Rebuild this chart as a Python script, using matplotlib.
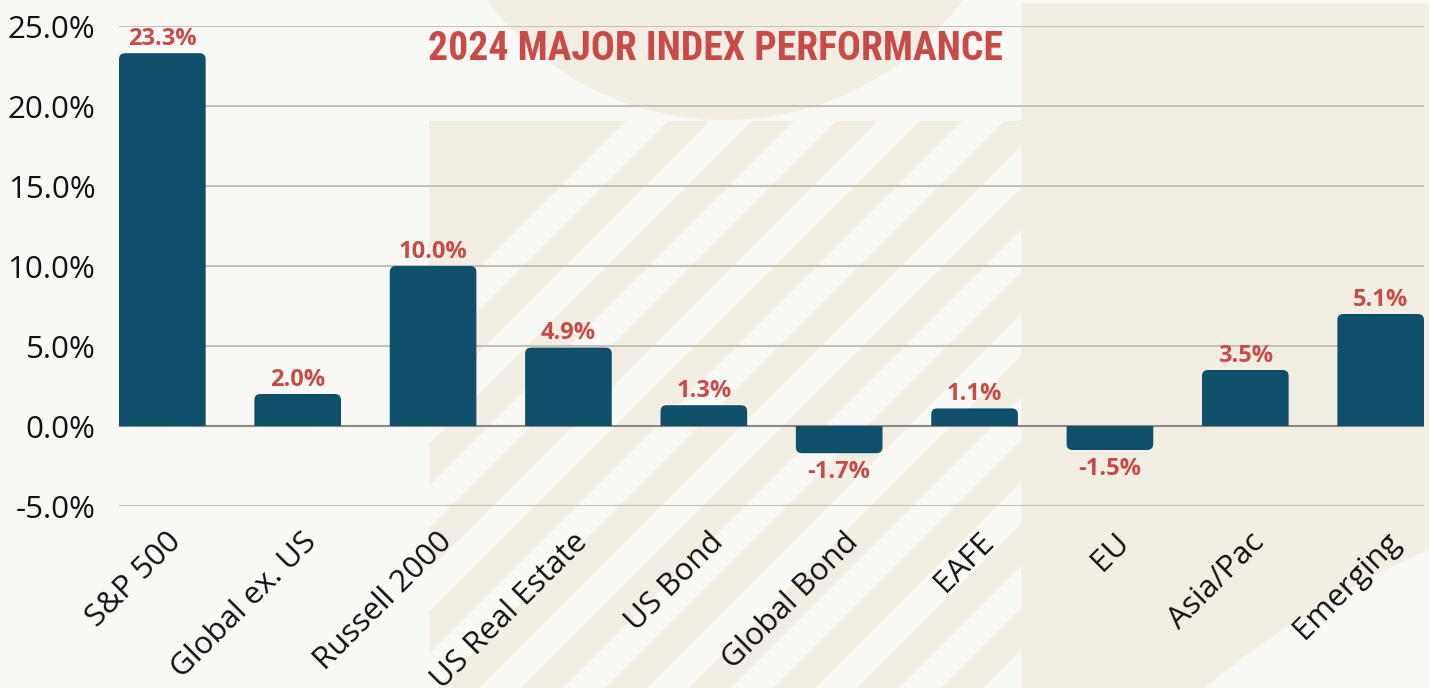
import matplotlib
matplotlib.use('Agg')
import matplotlib.pyplot as plt
import matplotlib.patches as mpatches
import matplotlib.transforms as mtransforms

# data
categories = ['S&P 500', 'Global ex. US', 'Russell 2000', 'US Real Estate', 'US Bond',
              'Global Bond', 'EAFE', 'EU', 'Asia/Pac', 'Emerging']
returns = [23.3, 2.0, 10.0, 4.9, 1.3, -1.7, 1.1, -1.5, 3.5, 7.0]     # bar heights as drawn
value_labels = ['23.3%', '2.0%', '10.0%', '4.9%', '1.3%', '-1.7%', '1.1%', '-1.5%', '3.5%', '5.1%']
y_ticks = [-5, 0, 5, 10, 15, 20, 25]
title = '2024 MAJOR INDEX PERFORMANCE'

BG = '#f8f8f4'
BEIGE = '#f2eee3'
BAR = '#0f4f69'
RED = '#c84b47'
W, H = 1429, 688

plt.rcParams['font.family'] = ['Open Sans', 'DejaVu Sans']

fig = plt.figure(figsize=(W / 100, H / 100), dpi=100, facecolor=BG)

# decorative background, drawn in pixel coordinates
bg = fig.add_axes([0, 0, 1, 1], zorder=0)
bg.set_xlim(0, W)
bg.set_ylim(H, 0)
bg.axis('off')
bg.add_patch(mpatches.Circle((725, -176), 296, facecolor=BEIGE, edgecolor='none'))
stripe_box = mpatches.Rectangle((429, 121), 592, H - 121, facecolor=BEIGE, edgecolor='none')
bg.add_patch(stripe_box)
for k in range(13):
    c1 = 747 + 84 * k
    c2 = c1 + 42
    poly = mpatches.Polygon([(c1 - 121, 121), (c2 - 121, 121), (c2 - H, H), (c1 - H, H)],
                            closed=True, facecolor=BG, edgecolor='none')
    bg.add_patch(poly)
    poly.set_clip_path(stripe_box)
bg.add_patch(mpatches.Rectangle((1021, 3), W - 1021, H, facecolor=BEIGE, edgecolor='none'))
bg.add_patch(mpatches.Circle((1810, 1420), 950, facecolor=BG, edgecolor='none'))

# main chart
left, right, top, bottom = 119, 1424, 26, 506
ax = fig.add_axes([left / W, 1 - bottom / H, (right - left) / W, (bottom - top) / H], zorder=1)
ax.set_facecolor('none')
x = list(range(len(categories)))
ax.set_xlim(-0.32, len(categories) - 1 + 0.32)
ax.set_ylim(-5, 25)

bars = ax.bar(x, returns, width=0.64, color=BAR, zorder=3)
asp = (30 / (bottom - top)) / ((len(categories) - 1 + 0.64) / (right - left))
for b, v in zip(bars, returns):
    b.set_visible(False)
    bx, bw = b.get_x(), b.get_width()
    # rounded box that runs past zero, clipped at zero so only the outer end is rounded
    ext = 1.0 if v >= 0 else -1.0
    y0 = min(-ext, v)
    rb = mpatches.FancyBboxPatch((bx, y0), bw, abs(v) + 1.0,
                                 boxstyle='round,pad=0,rounding_size=0.045',
                                 mutation_aspect=asp, facecolor=BAR,
                                 edgecolor='none', zorder=3)
    ax.add_patch(rb)
    clip = mpatches.Rectangle((bx - 0.1, 0), bw + 0.2, v * 1.5, transform=ax.transData)
    rb.set_clip_path(clip)

for xi, v, lab in zip(x, returns, value_labels):
    off = 6 if v >= 0 else -18
    ax.annotate(lab, (xi, v), xytext=(0, off), textcoords='offset points', ha='center',
                va='baseline', color=RED, fontsize=17, fontweight='bold', zorder=4)

ax.set_yticks(y_ticks)
ax.set_yticklabels([f'{t:.1f}%' for t in y_ticks], fontsize=22.5, color='#111111')
ax.grid(axis='y', color='#c4c1b6', lw=1.5, zorder=1)
ax.axhline(0, color='#8a8a86', lw=1.5, zorder=2)
ax.set_axisbelow(True)
for s in ax.spines.values():
    s.set_visible(False)
ax.tick_params(axis='y', length=0, pad=17)
ax.tick_params(axis='x', length=0, pad=15)

ax.set_xticks(x)
ax.set_xticklabels(categories, fontsize=22.5, color='#111111', rotation=45,
                   ha='right', va='top', rotation_mode='anchor')
shift = mtransforms.ScaledTranslation(4 / 100, 0, fig.dpi_scale_trans)
for lbl in ax.get_xticklabels():
    lbl.set_transform(lbl.get_transform() + shift)

fig.text(715 / W, 1 - 49 / H, title, ha='center', va='center', color=RED,
         fontsize=28.5, fontweight='bold', fontstretch='condensed',
         family=['Roboto Condensed', 'Open Sans Condensed', 'Noto Sans', 'DejaVu Sans'], zorder=5)

fig.savefig('out.png', dpi=100, facecolor=BG)
